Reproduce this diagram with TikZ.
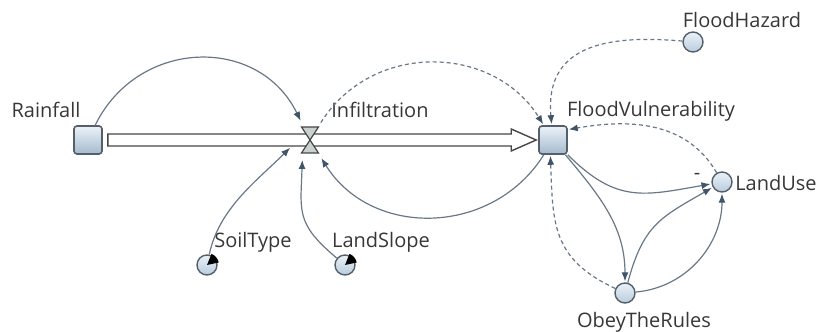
\documentclass[tikz,border=0pt]{standalone}
\usepackage{fontspec}
\setmainfont{Open Sans}
\usepackage{tikz}
\usetikzlibrary{arrows.meta,calc}
\definecolor{linkgray}{RGB}{105, 120, 135}
\definecolor{tipgray}{RGB}{65, 85, 105}
\definecolor{boxedge}{RGB}{85, 95, 108}
\definecolor{boxtop}{RGB}{235, 242, 248}
\definecolor{boxbottom}{RGB}{165, 186, 205}
\definecolor{auxfill}{RGB}{185, 204, 220}
\definecolor{pipeedge}{RGB}{70, 70, 70}
\definecolor{valvefill}{RGB}{200, 208, 208}
\definecolor{textgray}{RGB}{55, 55, 55}

\begin{document}
\begin{tikzpicture}[
        x=0.5pt, y=0.5pt,
        stock/.style={rectangle, rounded corners=1.5pt, draw=boxedge, line width=0.8pt, minimum size=14pt, inner sep=0pt, top color=boxtop, bottom color=boxbottom},
        aux/.style={circle, draw=boxedge, line width=0.7pt, minimum size=10pt, inner sep=0pt, top color=boxtop, bottom color=auxfill},
        valvenode/.style={circle, minimum size=20pt, inner sep=0pt},
        pipe/.style={draw=pipeedge, line width=0.7pt, fill=white, line join=miter},
        link/.style={-{Latex[length=4.5pt, width=3.5pt, color=tipgray]}, draw=linkgray, line width=0.6pt, shorten >=0.5pt},
        infolink/.style={link, dash pattern=on 2pt off 1.5pt},
        lbl/.style={text=textgray, font=\fontsize{10}{12}\selectfont, inner sep=0pt}
    ]
    \useasboundingbox (0, 0) rectangle (816, 332);

    % Stocks and flow
    \node[stock] (rain) at (88, 192) {};
    \node[stock] (fv) at (553, 192) {};
    \node[valvenode] (valve) at (310, 192) {};
    \draw[pipe] ($(rain.east)+(5, 6)$) -- ($(fv.west)+(-27, 6)$) -- ($(fv.west)+(-27, 11)$)
        -- ($(fv.west)+(-2, 0)$) -- ($(fv.west)+(-27, -11)$) -- ($(fv.west)+(-27, -6)$)
        -- ($(rain.east)+(5, -6)$) -- cycle;
    \draw[draw=pipeedge, line width=0.6pt, fill=valvefill] ($(valve)+(-8.5, 13)$) -- ($(valve)+(8.5, 13)$)
        -- ($(valve)+(-8.5, -13)$) -- ($(valve)+(8.5, -13)$) -- cycle;

    % Auxiliaries
    \node[aux] (haz) at (693, 290) {};
    \node[aux] (lu) at (722, 150) {};
    \node[aux] (otr) at (625, 39) {};
    \node[aux] (soil) at (207, 67) {};
    \node[aux] (slope) at (345, 67) {};
    % lookup markers
    \fill (soil.center) -- ++(12:12) arc[start angle=12, end angle=68, radius=12] -- cycle;
    \fill (slope.center) -- ++(12:12) arc[start angle=12, end angle=68, radius=12] -- cycle;

    % Labels
    \node[lbl] (rainlbl) at (46, 222) {Rainfall};
    \node[lbl] (infillbl) at (380, 222) {Infiltration};
    \node[lbl] (fvlbl) at (651, 221) {FloodVulnerability};
    \node[lbl] (hazlbl) at (742, 312) {FloodHazard};
    \node[lbl] (lulbl) at (776, 149) {LandUse};
    \node[lbl] (otrlbl) at (644, 10) {ObeyTheRules};
    \node[lbl] (soillbl) at (253, 90) {SoilType};
    \node[lbl] (slopelbl) at (381, 90) {LandSlope};
    \node[lbl] (minus) at (697, 156) {-};

    % Inputs to the rate
    \draw[link] (rain) to[out=64, in=116, looseness=1.2] (valve);
    \draw[link] (soil) to[out=78, in=-135, looseness=0.9] (valve.-160);
    \draw[link] (slope) to[out=140, in=-92, looseness=1.3] (valve.-112);
    \draw[link] (fv) to[out=-122, in=-58, looseness=1.1] (valve);

    % Links into the stock
    \draw[infolink] (valve) to[out=58, in=122, looseness=1.1] (fv);
    \draw[infolink] (haz) to[out=175, in=95, looseness=1.3] (fv);
    \draw[infolink] (lu) to[out=120, in=10] (fv.35);
    \draw[infolink] (otr) to[out=155, in=-88, looseness=1.2] (fv.-100);

    % Land use loop
    \draw[link] (fv) to[out=-45, in=190, looseness=1.2] (lu.190);
    \draw[link] (fv) to[out=-50, in=90] (otr);
    \draw[link] (otr) to[out=75, in=-150, looseness=1.2] (lu);
    \draw[link] (otr) to[out=5, in=-90] (lu);
\end{tikzpicture}
\end{document}
